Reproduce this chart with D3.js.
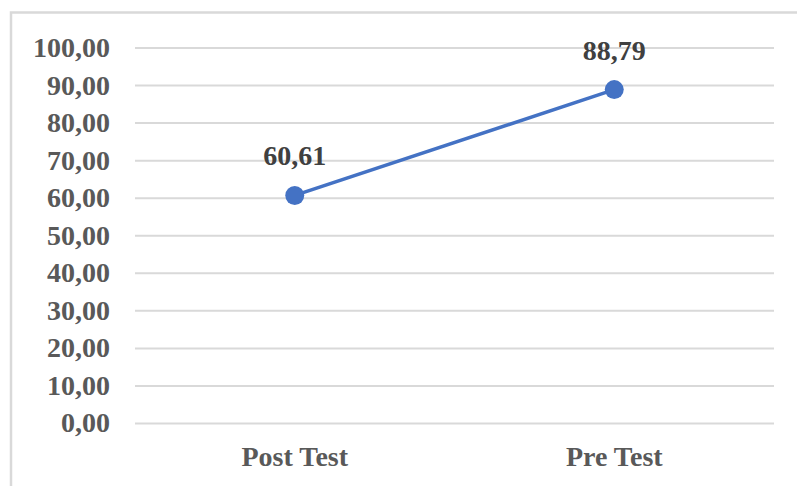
<!DOCTYPE html>
<html><head><meta charset="utf-8">
<script src="https://cdn.jsdelivr.net/npm/d3@7"></script>
<style>html,body{margin:0;padding:0;background:#fff;}svg{display:block;}</style>
</head><body>
<svg id="c" width="797" height="486"></svg>
<script>
const categories = ["Post Test", "Pre Test"];
const values = [60.61, 88.79];
const valueLabels = ["60,61", "88,79"];
const yTicks = [0, 10, 20, 30, 40, 50, 60, 70, 80, 90, 100];

(function () {
const svg = d3.select("#c");
const font = "'Liberation Serif','Times New Roman',serif";
const textColor = "#595959";

svg.append("rect").attr("x", 11).attr("y", 12.5).attr("width", 830).attr("height", 520)
  .attr("fill", "none").attr("stroke", "#d9d9d9").attr("stroke-width", 2.5);

const pL = 135, pR = 774, pT = 47.5, pB = 423;
const x = d3.scaleBand().domain(categories).range([pL, pR]);
const y = d3.scaleLinear().domain([0, 100]).range([pB, pT]);
const fmt = v => d3.format(".2f")(v).replace(".", ",");

const yAxis = svg.append("g").attr("transform", `translate(${pL},0)`)
  .call(d3.axisLeft(y).tickValues(yTicks).tickFormat(fmt).tickSize(-(pR - pL)).tickPadding(25));
yAxis.select(".domain").remove();
yAxis.selectAll("line").attr("stroke", "#d9d9d9").attr("stroke-width", 2);
yAxis.selectAll("text").attr("font-family", font).attr("font-weight", "bold")
  .attr("font-size", "28px").attr("fill", textColor);

const xAxis = svg.append("g").attr("transform", `translate(0,${pB})`)
  .call(d3.axisBottom(x).tickSize(0).tickPadding(23));
xAxis.select(".domain").remove();
xAxis.selectAll("text").attr("font-family", font).attr("font-weight", "bold")
  .attr("font-size", "28px").attr("fill", textColor);

const cx = d => x(d) + x.bandwidth() / 2;
const line = d3.line().x((d, i) => cx(categories[i])).y(d => y(d));
svg.append("path").datum(values).attr("d", line)
  .attr("fill", "none").attr("stroke", "#4472c4").attr("stroke-width", 3.5);

svg.selectAll("circle.pt").data(values).enter().append("circle")
  .attr("class", "pt").attr("cx", (d, i) => cx(categories[i])).attr("cy", d => y(d))
  .attr("r", 9.5).attr("fill", "#4472c4");

svg.selectAll("text.lbl").data(values).enter().append("text")
  .attr("class", "lbl").attr("x", (d, i) => cx(categories[i])).attr("y", d => y(d) - 30)
  .attr("text-anchor", "middle").attr("font-family", font).attr("font-weight", "bold")
  .attr("font-size", "28px").attr("fill", "#404040").text((d, i) => valueLabels[i]);
})();
</script>
</body></html>
